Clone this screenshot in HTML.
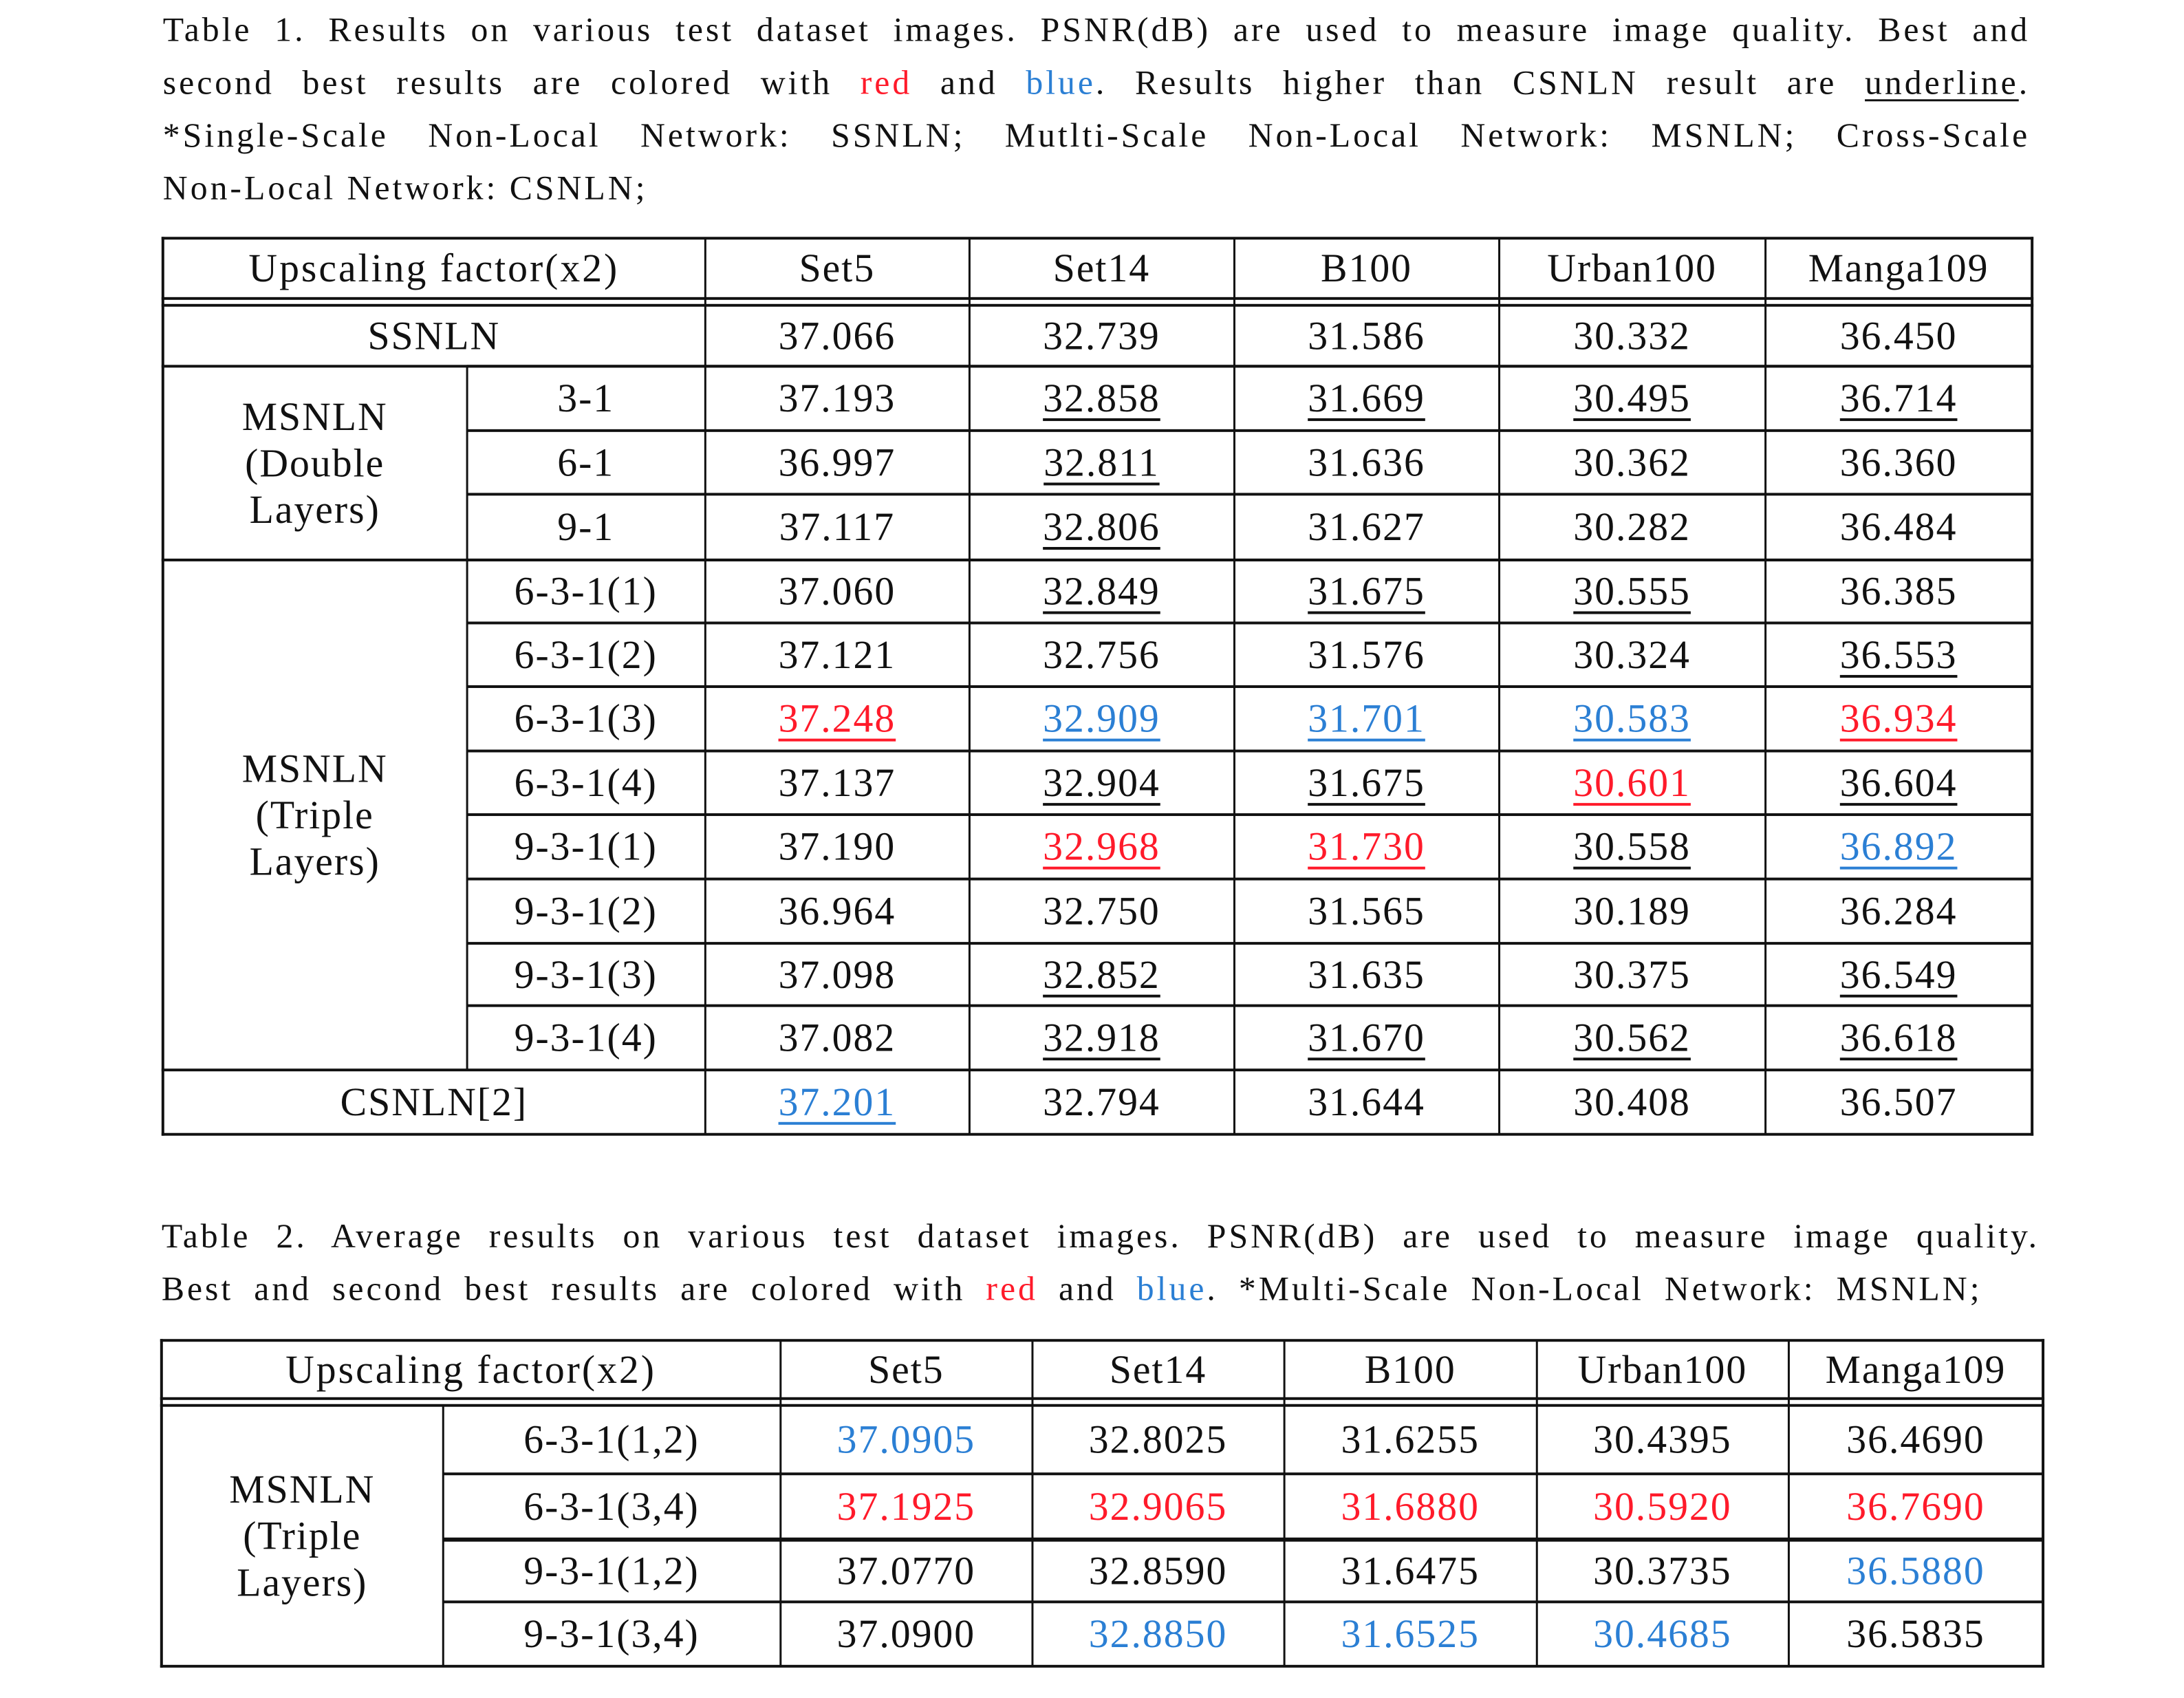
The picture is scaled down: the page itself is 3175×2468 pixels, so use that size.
<!DOCTYPE html>
<html><head><meta charset="utf-8">
<style>
html,body{margin:0;padding:0;background:#fff;}
body{width:3175px;height:2468px;position:relative;overflow:hidden;font-family:"Liberation Serif","Noto Serif CJK SC",serif;color:#111;}
#wrap{position:absolute;left:0;top:0;width:3175px;height:2468px;transform:scale(0.995);transform-origin:0 0;}
.pl{position:absolute;font-size:50px;line-height:60px;letter-spacing:4px;white-space:nowrap;}
.pl.j{text-align:justify;text-align-last:justify;white-space:normal;}
.ln{position:absolute;background:#111;}
.cell{position:absolute;display:flex;align-items:center;justify-content:center;text-align:center;font-size:58px;line-height:68px;letter-spacing:2px;}
.u{text-decoration:underline;text-decoration-thickness:4px;text-underline-offset:10px;}
.r{color:#ff1a2a;}
.b{color:#2b7fd4;}
</style></head>
<body>
<div id="wrap">
<div>
<div class="pl j" style="left:238px;top:13px;width:2728px;">Table 1. Results on various test dataset images. PSNR(dB) are used to measure image quality. Best and</div>
<div class="pl j" style="left:238px;top:90px;width:2728px;">second best results are colored with <span class="r">red</span> and <span class="b">blue</span>. Results higher than CSNLN result are <span style="text-decoration:underline;text-decoration-thickness:3px;text-underline-offset:8px;">underline</span>.</div>
<div class="pl j" style="left:238px;top:167px;width:2728px;">*Single-Scale Non-Local Network: SSNLN; Mutlti-Scale Non-Local Network: MSNLN; Cross-Scale</div>
<div class="pl" style="left:238px;top:244px;">Non-Local Network: CSNLN;</div>
</div>
<div>
<div class="pl j" style="left:236px;top:1775px;width:2744px;">Table 2. Average results on various test dataset images. PSNR(dB) are used to measure image quality.</div>
<div class="pl j" style="left:236px;top:1852px;width:2660px;">Best and second best results are colored with <span class="r">red</span> and <span class="b">blue</span>. *Multi-Scale Non-Local Network: MSNLN;</div>
</div>
<div id="t1"></div>
<div id="t2"></div>
</div>
<script>
const datasets = ["Set5","Set14","B100","Urban100","Manga109"];
const t1Labels = ["3-1","6-1","9-1","6-3-1(1)","6-3-1(2)","6-3-1(3)","6-3-1(4)","9-3-1(1)","9-3-1(2)","9-3-1(3)","9-3-1(4)"];
const t1Values = [
 ["37.066","32.739","31.586","30.332","36.450"],
 ["37.193","32.858u","31.669u","30.495u","36.714u"],
 ["36.997","32.811u","31.636","30.362","36.360"],
 ["37.117","32.806u","31.627","30.282","36.484"],
 ["37.060","32.849u","31.675u","30.555u","36.385"],
 ["37.121","32.756","31.576","30.324","36.553u"],
 ["37.248ru","32.909bu","31.701bu","30.583bu","36.934ru"],
 ["37.137","32.904u","31.675u","30.601ru","36.604u"],
 ["37.190","32.968ru","31.730ru","30.558u","36.892bu"],
 ["36.964","32.750","31.565","30.189","36.284"],
 ["37.098","32.852u","31.635","30.375","36.549u"],
 ["37.082","32.918u","31.670u","30.562u","36.618u"],
 ["37.201bu","32.794","31.644","30.408","36.507"]
];
const t2Labels = ["6-3-1(1,2)","6-3-1(3,4)","9-3-1(1,2)","9-3-1(3,4)"];
const t2Values = [
 ["37.0905b","32.8025","31.6255","30.4395","36.4690"],
 ["37.1925r","32.9065r","31.6880r","30.5920r","36.7690r"],
 ["37.0770","32.8590","31.6475","30.3735","36.5880b"],
 ["37.0900","32.8850b","31.6525b","30.4685b","36.5835"]
];

function line(p,x,y,w,h,name){
  const d=document.createElement('div');
  d.className='ln';
  
  
  d.style.left=x+'px';d.style.top=y+'px';d.style.width=w+'px';d.style.height=h+'px';
  p.appendChild(d);
}
function cell(p,x0,x1,y0,y1,txt,name){
  const d=document.createElement('div');
  d.className='cell';
  
  
  d.style.left=x0+'px';d.style.top=y0+'px';d.style.width=(x1-x0)+'px';d.style.height=(y1-y0)+'px';
  const m=txt.match(/^([0-9.]+)([rbu]*)$/);
  if(m){
    const s=document.createElement('span');
    s.textContent=m[1];
    if(m[2].includes('r')) s.classList.add('r');
    if(m[2].includes('b')) s.classList.add('b');
    if(m[2].includes('u')) s.classList.add('u');
    d.appendChild(s);
  } else d.innerHTML=txt;
  p.appendChild(d);
}
function build(p,L,R,top,hb1,hb2,sub,cols,rows,groups,lead,labels,values,thick){
  cell(p,L,cols[0],top,hb1,"<span style='letter-spacing:3px'>Upscaling factor(x2)</span>",'header-label');
  for(let i=0;i<5;i++){cell(p,cols[i],i<4?cols[i+1]:R,top,hb1,datasets[i],'header-'+datasets[i].toLowerCase());}
  line(p,L-2,top-2,R-L+4,4,'top-border');
  line(p,L-2,hb1-2,R-L+4,4,'header-rule-1');
  line(p,L-2,hb2-2,R-L+4,4,'header-rule-2');
  line(p,L-2,rows[rows.length-1]-2,R-L+4,4,'bottom-border');
  line(p,L-2,top-2,4,rows[rows.length-1]-top+4,'left-border');
  line(p,R-2,top-2,4,rows[rows.length-1]-top+4,'right-border');
  cols.forEach((c,i)=>line(p,c-1,top,3,rows[rows.length-1]-top,'col-line'));
  groups.forEach(g=>{
    const y0=rows[g.r0], y1=rows[g.r1];
    if(g.span){ cell(p,L,cols[0],y0,y1,g.text,'row-label'); }
    else {
      cell(p,L,sub,y0,y1,g.text,'group-label');
      line(p,sub-1,y0,3,y1-y0,'sub-col-line');
    }
    if(g.r0>0) line(p,L-2,y0-2,R-L+4,4,'group-rule');
  });
  for(let r=0;r<values.length;r++){
    const y0=rows[r], y1=rows[r+1];
    const li=r-lead;
    if(li>=0 && li<labels.length){
      cell(p,sub,cols[0],y0,y1,labels[li],'row-label-'+labels[li]);
      if(r>0) line(p,sub,y0-(thick&&thick.includes(r)?3:2),R-sub,thick&&thick.includes(r)?6:4,'row-rule');
    }
    for(let c=0;c<5;c++){
      cell(p,cols[c],c<4?cols[c+1]:R,y0,y1,values[r][c],'value-'+datasets[c].toLowerCase());
    }
  }
}
const t1=document.getElementById('t1');
build(t1,238,2969,348,436,446,682,[1030,1416,1803,2190,2579],
 [446,535,629,722,818,910,1003,1097,1190,1284,1378,1469,1563,1657],
 [{r0:0,r1:1,span:true,text:"SSNLN"},
  {r0:1,r1:4,text:"MSNLN<br>(Double<br>Layers)"},
  {r0:4,r1:12,text:"MSNLN<br>(Triple<br>Layers)"},
  {r0:12,r1:13,span:true,text:"CSNLN[2]"}],
 1,t1Labels,t1Values,null);
const t2=document.getElementById('t2');
build(t2,236,2985,1958,2043,2053,647,[1140,1508,1876,2245,2613],
 [2053,2153,2249,2340,2434],
 [{r0:0,r1:4,text:"MSNLN<br>(Triple<br>Layers)"}],
 0,t2Labels,t2Values,[2]);
</script>
</body></html>
